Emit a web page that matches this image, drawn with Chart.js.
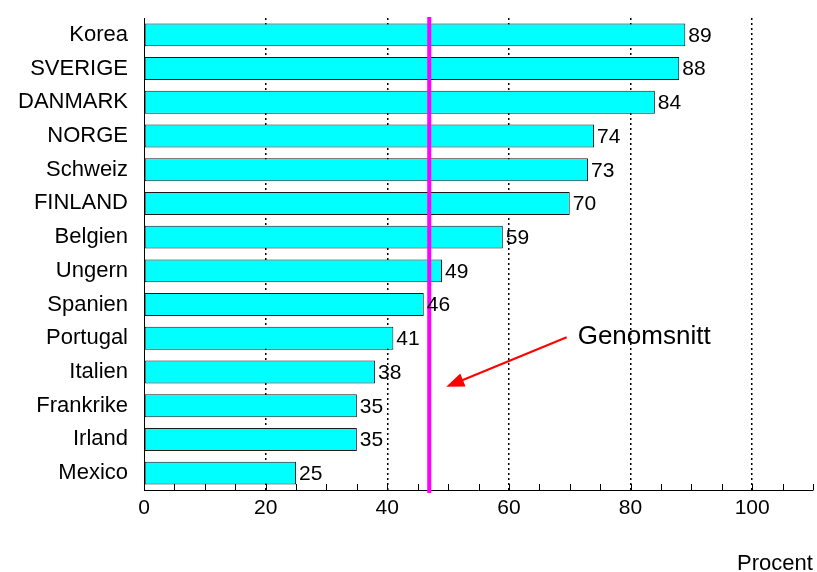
<!DOCTYPE html>
<html lang="sv">
<head>
  <meta charset="UTF-8">
  <title>Genomsnitt per land</title>
  <script src="https://cdn.jsdelivr.net/npm/chart.js"></script>
  <style>
    html, body { margin: 0; padding: 0; background: #fff; }
    #wrap { width: 817px; height: 572px; }
  </style>
</head>
<body>
<div id="wrap"><canvas id="chart" width="817" height="572"></canvas></div>

<script>
const countries = ['Korea', 'SVERIGE', 'DANMARK', 'NORGE', 'Schweiz', 'FINLAND', 'Belgien',
  'Ungern', 'Spanien', 'Portugal', 'Italien', 'Frankrike', 'Irland', 'Mexico'];
const values = [89, 88, 84, 74, 73, 70, 59, 49, 46, 41, 38, 35, 35, 25];
const xTicks = [0, 20, 40, 60, 80, 100];
const average = 46.9;
const avgLabel = 'Genomsnitt';
const unitLabel = 'Procent';

const FONT = 'Arial, "Liberation Sans", sans-serif';

// extras: average line, arrow, value labels, minor ticks
const extras = {
  id: 'extras',
  afterDatasetsDraw(chart) {
    const ctx = chart.ctx, x = chart.scales.x, y = chart.scales.y, area = chart.chartArea;
    ctx.save();

    // minor ticks every 5, pointing up
    ctx.strokeStyle = '#000';
    ctx.lineWidth = 1;
    for (let v = 0; v <= 110; v += 5) {
      const px = Math.round(x.getPixelForValue(v)) + 0.5;
      ctx.beginPath();
      ctx.moveTo(px, area.bottom);
      ctx.lineTo(px, area.bottom - 6);
      ctx.stroke();
    }

    // average line
    const ax = x.getPixelForValue(average);
    ctx.strokeStyle = '#ff00ff';
    ctx.lineWidth = 4;
    ctx.beginPath();
    ctx.moveTo(ax, area.top - 1);
    ctx.lineTo(ax, area.bottom + 3);
    ctx.stroke();

    // value labels
    ctx.fillStyle = '#000';
    ctx.font = '21px ' + FONT;
    ctx.textAlign = 'left';
    ctx.textBaseline = 'middle';
    values.forEach((v, i) => {
      ctx.fillText(String(v), x.getPixelForValue(v) + 3, y.getPixelForValue(i) + 1);
    });

    // arrow from label to the line
    const sx = x.getPixelForValue(69.5), sy = y.getPixelForValue(8.97);
    const ex = x.getPixelForValue(49.7), ey = y.getPixelForValue(10.44);
    const ang = Math.atan2(ey - sy, ex - sx);
    ctx.strokeStyle = '#ff0000';
    ctx.fillStyle = '#ff0000';
    ctx.lineWidth = 2;
    ctx.beginPath();
    ctx.moveTo(sx, sy);
    ctx.lineTo(ex - 12 * Math.cos(ang), ey - 12 * Math.sin(ang));
    ctx.stroke();
    ctx.beginPath();
    ctx.moveTo(ex, ey);
    ctx.lineTo(ex - 18 * Math.cos(ang) + 7 * Math.sin(ang), ey - 18 * Math.sin(ang) - 7 * Math.cos(ang));
    ctx.lineTo(ex - 18 * Math.cos(ang) - 7 * Math.sin(ang), ey - 18 * Math.sin(ang) + 7 * Math.cos(ang));
    ctx.closePath();
    ctx.fill();

    ctx.fillStyle = '#000';
    ctx.font = '26px ' + FONT;
    ctx.textAlign = 'left';
    ctx.fillText(avgLabel, sx + 11, sy);

    ctx.font = '22px ' + FONT;
    ctx.textAlign = 'center';
    ctx.fillText(unitLabel, 775, 564);
    ctx.restore();
  }
};

new Chart(document.getElementById('chart'), {
  type: 'bar',
  data: {
    labels: countries,
    datasets: [{
      data: values,
      backgroundColor: '#00ffff',
      borderColor: '#1a1a1a',
      borderWidth: 1,
      borderSkipped: false,
      barPercentage: 1,
      categoryPercentage: 0.68
    }]
  },
  options: {
    indexAxis: 'y',
    responsive: false,
    animation: false,
    layout: { padding: { left: 0, right: 4, top: 18, bottom: 42 } },
    plugins: { legend: { display: false }, tooltip: { enabled: false } },
    scales: {
      x: {
        min: 0,
        max: 110,
        afterFit: s => { s.height = 40; s.paddingLeft = 0; s.paddingRight = 0; },
        afterBuildTicks: s => { s.ticks = xTicks.map(v => ({ value: v })); },
        ticks: { color: '#000', padding: 6, font: { size: 21, family: FONT } },
        grid: {
          drawTicks: false,
          color: ctx => ctx.tick && ctx.tick.value === 0 ? 'rgba(0,0,0,0)' : '#000',
          lineWidth: 1.5
        },
        border: { display: true, color: '#000', width: 1, dash: [2, 3] }
      },
      y: {
        afterFit: s => { s.width = 144; s.paddingTop = 0; s.paddingBottom = 0; },
        ticks: { color: '#000', padding: 16, font: { size: 22, family: FONT } },
        grid: { display: false, drawTicks: false },
        border: { display: true, color: '#000', width: 1 }
      }
    }
  },
  plugins: [extras]
});
</script>
</body>
</html>
